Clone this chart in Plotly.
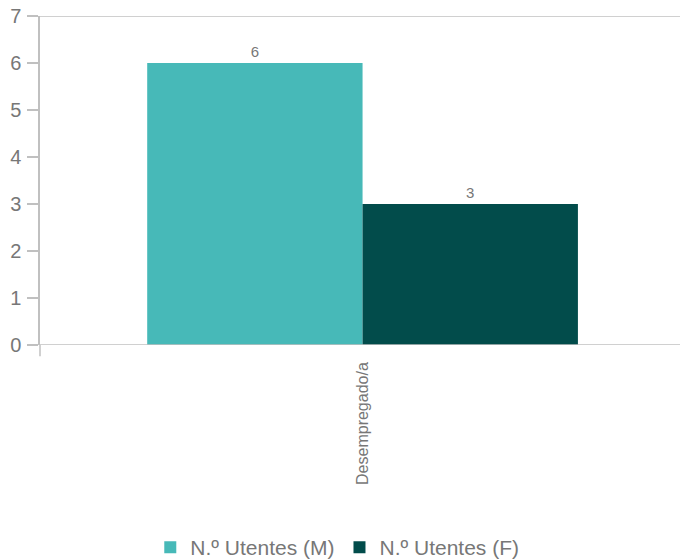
import plotly.graph_objects as go

categories = ["Desempregado/a"]
series_names = ["N.º Utentes (M)", "N.º Utentes (F)"]
values_m = [6]
values_f = [3]
colors = ["#47B9B8", "#024C4B"]
y_ticks = [0, 1, 2, 3, 4, 5, 6, 7]

fig = go.Figure()
for name, vals, col in zip(series_names, [values_m, values_f], colors):
    fig.add_trace(go.Bar(
        x=categories, y=vals, name=name, marker=dict(color=col, line=dict(width=0)),
        text=[str(v) for v in vals], textposition="outside",
        textfont=dict(size=15, color="#777777"), cliponaxis=False,
    ))

fig.update_layout(
    width=680, height=559,
    margin=dict(l=40, r=0, t=16, b=214),
    paper_bgcolor="white", plot_bgcolor="white",
    font=dict(family="Liberation Sans, Arial, sans-serif", color="#777777"),
    barmode="group", bargap=0.327, bargroupgap=0,
    showlegend=True,
    legend=dict(orientation="h", xref="container", x=0.496, xanchor="center",
                yref="container", y=0.057, yanchor="top",
                font=dict(size=21, color="#777777"), traceorder="normal"),
    xaxis=dict(showgrid=False, tickangle=-90, tickfont=dict(size=16, color="#777777"),
               showline=False, ticks="", zeroline=False, automargin=False, ticklabelstandoff=13,
               range=[-0.504, 0.496]),
    yaxis=dict(range=[0, 7], tickvals=y_ticks, showgrid=False, zeroline=False,
               showline=True, linecolor="#C0C0C0", linewidth=1.5,
               ticks="outside", ticklen=11, tickcolor="#C0C0C0", tickwidth=1.5,
               tickfont=dict(size=20, color="#777777"), automargin=False,
               ticklabelstandoff=2),
    shapes=[
        dict(type="line", xref="paper", yref="y", x0=0, x1=1, y0=7, y1=7, line=dict(color="#C0C0C0", width=1.5)),
        dict(type="line", xref="paper", yref="y", x0=0, x1=1, y0=0, y1=0, line=dict(color="#C0C0C0", width=1.5)),
        dict(type="line", xref="paper", yref="paper", x0=0, x1=0, y0=0, y1=-0.034, line=dict(color="#C0C0C0", width=1.5)),
    ],
)
fig.write_html("out.html", config={"displayModeBar": False},
               post_script="document.body.style.margin='0';document.body.style.overflow='hidden';")
